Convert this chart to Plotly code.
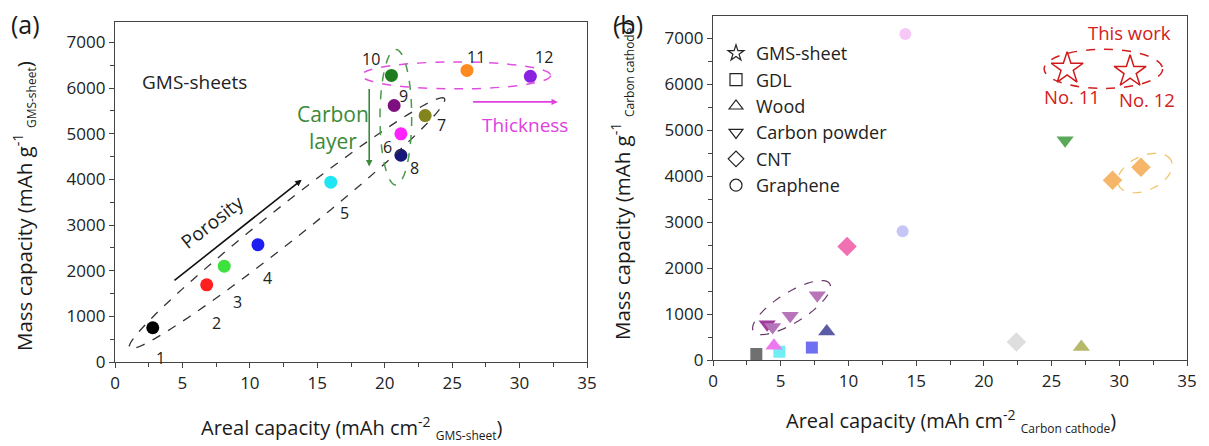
import numpy as np
import plotly.graph_objects as go

W, H = 1209, 446
OFF = 8  # page offset of the plot div inside the browser window
FONT = "Open Sans"

# ---------------- Panel (a) data ----------------
a_ids = ["1", "2", "3", "4", "5", "6", "7", "8", "9", "10", "11", "12"]
a_areal = [2.8, 6.8, 8.1, 10.6, 16.0, 21.2, 23.0, 21.2, 20.7, 20.5, 26.1, 30.8]
a_mass = [750, 1690, 2100, 2570, 3940, 5000, 5400, 4530, 5620, 6280, 6390, 6260]
a_colors = ["#000000", "#ff1f1f", "#3de23d", "#1f1fef", "#1fe6f2", "#ff22ff",
            "#84841c", "#17177a", "#7e0f7e", "#1d7d1d", "#ff8a1f", "#8a22e0"]
# label positions for the numbers (data units)
a_lab_x = [3.4, 7.5, 9.1, 11.3, 17.0, 20.2, 24.2, 22.2, 21.4, 19.0, 26.8, 31.8]
a_lab_y = [90, 860, 1320, 1840, 3270, 4720, 5200, 4260, 5820, 6650, 6690, 6690]

# ---------------- Panel (b) data ----------------
star_x = [26.15, 30.8]
star_y = [6340, 6270]
gdl_x = [3.2, 4.9, 7.3]
gdl_y = [130, 180, 270]
gdl_c = ["#707070", "#70eef5", "#7070f2"]
wood_x = [4.5, 8.4, 27.2]
wood_y = [310, 620, 280]
wood_c = ["#ee78ee", "#5c5ca6", "#b8b86a"]
cp_x = [4.0, 4.4, 5.7, 7.7, 26.0]
cp_y = [780, 720, 960, 1410, 4780]
cp_c = ["#a03c9c", "#b474bc", "#b874b8", "#b874b8", "#5aa85a"]
cnt_x = [9.9, 22.4, 29.5, 31.6]
cnt_y = [2470, 390, 3910, 4190]
cnt_c = ["#f070b2", "#dedede", "#f6b66a", "#f6b66a"]
gr_x = [14.2, 14.0]
gr_y = [7090, 2800]
gr_c = ["#f6c8f6", "#c6c6f6"]
legend_names = ["GMS-sheet", "GDL", "Wood", "Carbon powder", "CNT", "Graphene"]
legend_symbols = ["star-open", "square-open", "triangle-up-open",
                  "triangle-down-open", "diamond-open", "circle-open"]

# ---------------- layout geometry ----------------
XA_RANGE = [0, 35]
YA_RANGE = [0, 7450]
XB_RANGE = [0, 35]
YB_RANGE = [0, 7480]
A_PX = (115, 587, 22, 362)   # left, right, top, bottom (window pixels)
B_PX = (713, 1187, 16, 360)


def px_x(px):
    return (px - OFF) / W


def px_y(py):
    return (H - (py - OFF)) / H


def dom(px):
    l, r, t, b = px
    return [px_x(l), px_x(r)], [px_y(b), px_y(t)]


xa_dom, ya_dom = dom(A_PX)
xb_dom, yb_dom = dom(B_PX)

ka_x = (A_PX[1] - A_PX[0]) / (XA_RANGE[1] - XA_RANGE[0])
ka_y = (A_PX[3] - A_PX[2]) / (YA_RANGE[1] - YA_RANGE[0])
kb_x = (B_PX[1] - B_PX[0]) / (XB_RANGE[1] - XB_RANGE[0])
kb_y = (B_PX[3] - B_PX[2]) / (YB_RANGE[1] - YB_RANGE[0])


def ellipse_path(cx, cy, a_px, b_px, ang_deg, kx, ky, n=80):
    t = np.linspace(0, 2 * np.pi, n)
    th = np.radians(ang_deg)
    ux = a_px * np.cos(t) * np.cos(th) - b_px * np.sin(t) * np.sin(th)
    uy = a_px * np.cos(t) * np.sin(th) + b_px * np.sin(t) * np.cos(th)
    xs = cx + ux / kx
    ys = cy + uy / ky
    p = "M " + " L ".join(f"{x:.4f},{y:.3f}" for x, y in zip(xs, ys)) + " Z"
    return p


fig = go.Figure()

# Panel (a) points
fig.add_trace(go.Scatter(x=a_areal, y=a_mass, mode="markers", xaxis="x", yaxis="y",
                         marker=dict(size=13, color=a_colors), showlegend=False,
                         hoverinfo="skip"))

# Panel (b) points
def add_b(xs, ys, cs, sym, size):
    fig.add_trace(go.Scatter(x=xs, y=ys, mode="markers", xaxis="x2", yaxis="y2",
                             marker=dict(size=size, color=cs, symbol=sym,
                                         line=dict(width=0)),
                             showlegend=False, hoverinfo="skip"))

add_b(gdl_x, gdl_y, gdl_c, "square", 12)
add_b(wood_x, wood_y, wood_c, "triangle-up", 15)
add_b(cp_x, cp_y, cp_c, "triangle-down", 15)
add_b(cnt_x, cnt_y, cnt_c, "diamond", 15)
add_b(gr_x, gr_y, gr_c, "circle", 12)
fig.add_trace(go.Scatter(x=star_x, y=star_y, mode="markers", xaxis="x2", yaxis="y2",
                         marker=dict(size=24, symbol="star-open", color="#d01818",
                                     line=dict(width=1.5, color="#d01818")),
                         showlegend=False, hoverinfo="skip"))

# legend entries
for name, sym in zip(legend_names, legend_symbols):
    fig.add_trace(go.Scatter(x=[None], y=[None], mode="markers", xaxis="x2", yaxis="y2",
                             name=name,
                             marker=dict(size=12, symbol=sym, color="#222",
                                         line=dict(width=1.2, color="#222"))))

axis_common = dict(showgrid=False, zeroline=False, showline=True, linecolor="#444",
                   linewidth=1.4, mirror=True, ticks="outside", ticklen=5,
                   tickcolor="#444", tickwidth=1.2, automargin=False,
                   tickfont=dict(family=FONT, size=17, color="#222"))

fig.update_layout(
    width=W, height=H, margin=dict(l=0, r=0, t=0, b=0, autoexpand=False),
    paper_bgcolor="white", plot_bgcolor="white",
    font=dict(family=FONT, color="#222"),
    xaxis=dict(domain=xa_dom, range=XA_RANGE, anchor="y", dtick=5,
               minor=dict(dtick=2.5, ticks="outside", ticklen=4, tickcolor="#444"),
               **axis_common),
    yaxis=dict(domain=ya_dom, range=YA_RANGE, anchor="x", dtick=1000,
               minor=dict(dtick=500, ticks="outside", ticklen=4, tickcolor="#444"),
               **axis_common),
    xaxis2=dict(domain=xb_dom, range=XB_RANGE, anchor="y2", dtick=5,
                minor=dict(dtick=2.5, ticks="outside", ticklen=4, tickcolor="#444"),
                **axis_common),
    yaxis2=dict(domain=yb_dom, range=YB_RANGE, anchor="x2", dtick=1000,
                minor=dict(dtick=500, ticks="outside", ticklen=4, tickcolor="#444"),
                **axis_common),
    legend=dict(x=px_x(716), y=px_y(35), xanchor="left", yanchor="top",
                bgcolor="rgba(0,0,0,0)", font=dict(family=FONT, size=18, color="#222"),
                itemwidth=30, tracegroupgap=0),
)

shapes = []
# Panel (a) ellipses
shapes.append(dict(type="path", xref="x", yref="y",
                   path=ellipse_path(12.75, 3040, 201, 17, 38.4, ka_x, ka_y),
                   line=dict(color="#333", width=1.3, dash="dash")))
shapes.append(dict(type="circle", xref="x", yref="y", x0=19.65, x1=22.0, y0=3880, y1=6850,
                   line=dict(color="#4a9a4a", width=1.5, dash="dash")))
shapes.append(dict(type="circle", xref="x", yref="y", x0=18.3, x1=32.3, y0=5985, y1=6575,
                   line=dict(color="#e050e0", width=1.5, dash="dash")))
# Panel (b) ellipses
shapes.append(dict(type="circle", xref="x2", yref="y2", x0=24.45, x1=33.2, y0=5905, y1=6755,
                   line=dict(color="#d02020", width=1.5, dash="dash")))
shapes.append(dict(type="path", xref="x2", yref="y2",
                   path=ellipse_path(5.8, 1140, 45, 15, 32, kb_x, kb_y),
                   line=dict(color="#6a3a6a", width=1.2, dash="dash")))
shapes.append(dict(type="path", xref="x2", yref="y2",
                   path=ellipse_path(31.9, 4065, 29, 17, 25, kb_x, kb_y),
                   line=dict(color="#f0c060", width=1.2, dash="dash")))
fig.update_layout(shapes=shapes)

ann = []
# number labels
for t, x, y in zip(a_ids, a_lab_x, a_lab_y):
    ann.append(dict(x=x, y=y, xref="x", yref="y", text=t, showarrow=False,
                    font=dict(family=FONT, size=16, color="#222")))
ann += [
    dict(x=1.85, y=6143, xref="x", yref="y", text="GMS-sheets", showarrow=False,
         xanchor="left", font=dict(family=FONT, size=19, color="#222")),
    dict(x=7.2, y=3060, xref="x", yref="y", text="Porosity", showarrow=False,
         textangle=-38, font=dict(family=FONT, size=19, color="#222")),
    dict(x=16.15, y=5135, xref="x", yref="y", text="Carbon<br>layer", showarrow=False,
         font=dict(family=FONT, size=21, color="#3a8a3a")),
    dict(x=30.4, y=5200, xref="x", yref="y", text="Thickness", showarrow=False,
         font=dict(family=FONT, size=19, color="#e040e0")),
    # arrows
    dict(x=13.84, y=3994, ax=4.3, ay=1762, xref="x", yref="y", axref="x", ayref="y",
         text="", showarrow=True, arrowhead=2, arrowsize=0.8, arrowwidth=1.6,
         arrowcolor="#111"),
    dict(x=18.85, y=4286, ax=18.85, ay=6013, xref="x", yref="y", axref="x", ayref="y",
         text="", showarrow=True, arrowhead=2, arrowsize=0.8, arrowwidth=1.6,
         arrowcolor="#3a8a3a"),
    dict(x=32.84, y=5699, ax=26.44, ay=5699, xref="x", yref="y", axref="x", ayref="y",
         text="", showarrow=True, arrowhead=2, arrowsize=0.8, arrowwidth=1.6,
         arrowcolor="#e040e0"),
    # panel b texts
    dict(x=30.78, y=7130, xref="x2", yref="y2", text="This work", showarrow=False,
         font=dict(family=FONT, size=18.5, color="#d42020")),
    dict(x=26.5, y=5724, xref="x2", yref="y2", text="No. 11", showarrow=False,
         font=dict(family=FONT, size=18.5, color="#d42020")),
    dict(x=32.05, y=5674, xref="x2", yref="y2", text="No. 12", showarrow=False,
         font=dict(family=FONT, size=18.5, color="#d42020")),
]

SUB = "<sub><span style='font-size:12px'>{}</span></sub>"
paper_texts = [
    (25, 24, "(a)", 25, 0),
    (628, 24, "(b)", 25, 0),
    (352, 428, "Areal capacity (mAh cm<sup>-2</sup> " + SUB.format("GMS-sheet") + ")", 20, 0),
    (951, 421, "Areal capacity (mAh cm<sup>-2</sup> " + SUB.format("Carbon cathode") + ")", 20, 0),
    (24, 206, "Mass capacity (mAh g<sup>-1</sup> " + SUB.format("GMS-sheet") + ")", 20.5, -90),
    (622, 181, "Mass capacity (mAh g<sup>-1</sup> " + SUB.format("Carbon cathode") + ")", 20.5, -90),
]
for px, py, txt, fs, ang in paper_texts:
    ann.append(dict(x=px_x(px), y=px_y(py), xref="paper", yref="paper", text=txt,
                    showarrow=False, xanchor="center", yanchor="middle", textangle=ang,
                    font=dict(family=FONT, size=fs, color="#1a1a1a")))
fig.update_layout(annotations=ann)

fig.write_html("out.html")
